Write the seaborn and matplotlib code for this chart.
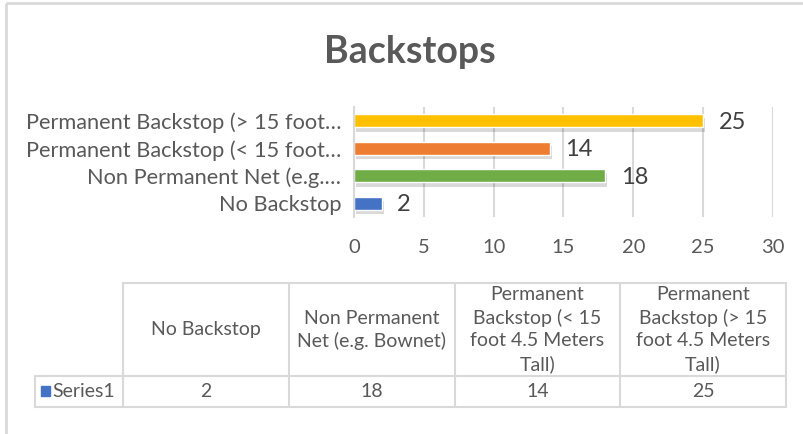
import matplotlib
matplotlib.use("Agg")
import matplotlib.pyplot as plt
import matplotlib.patheffects as pe
import seaborn as sns
import pandas as pd

# Survey results: type of backstop at the field
categories = [
    "No Backstop",
    "Non Permanent Net (e.g. Bownet)",
    "Permanent Backstop (< 15 foot 4.5 Meters Tall)",
    "Permanent Backstop (> 15 foot 4.5 Meters Tall)",
]
values = [2, 18, 14, 25]
axis_labels = [
    "No Backstop",
    "Non Permanent Net (e.g.…",
    "Permanent Backstop (< 15 foot…",
    "Permanent Backstop (> 15 foot…",
]
header_lines = [
    ["No Backstop"],
    ["Non Permanent", "Net (e.g. Bownet)"],
    ["Permanent", "Backstop (< 15", "foot 4.5 Meters", "Tall)"],
    ["Permanent", "Backstop (> 15", "foot 4.5 Meters", "Tall)"],
]
series_name = "Series1"
bar_colors = ["#4472C4", "#70AD47", "#ED7D31", "#FFC000"]
x_ticks = [0, 5, 10, 15, 20, 25, 30]

sns.set_style("white")
plt.rcParams["font.family"] = ["Lato", "DejaVu Sans"]

W, H = 804, 434
fig = plt.figure(figsize=(W / 100, H / 100), dpi=100)

TXT = "#595959"
GRID = "#D9D9D9"


def px_axes(x0, y0, x1, y1):
    return fig.add_axes([x0 / W, 1 - y1 / H, (x1 - x0) / W, (y1 - y0) / H])


# overlay for frame, title and data table (pixel coordinates)
ov = fig.add_axes([0, 0, 1, 1])
ov.set_xlim(0, W)
ov.set_ylim(H, 0)
ov.axis("off")

# chart frame (left and top edges)
ov.plot([6, 6], [3, H], color=GRID, lw=2, solid_capstyle="butt")
ov.plot([6, W], [3, 3], color=GRID, lw=2, solid_capstyle="butt")

ov.text(410, 52, "Backstops", ha="center", va="center", fontsize=27,
        fontweight="bold", color=TXT)

# bar chart: top-to-bottom follows reversed table order
df = pd.DataFrame({"label": axis_labels[::-1], "value": values[::-1]})
ax = px_axes(354, 107, 773, 217)
sns.barplot(data=df, x="value", y="label", hue="label",
            palette=bar_colors[::-1], orient="h", width=0.48,
            legend=False, ax=ax, saturation=1)
for p in ax.patches:
    p.set_path_effects([pe.SimplePatchShadow(offset=(1.5, -3), alpha=0.15,
                                             shadow_rgbFace="#000000"),
                        pe.Normal()])
ax.set_xlim(0, 30)
ax.set_ylim(3.5, -0.5)
ax.set_xticks(x_ticks)
ax.set_xticklabels([str(t) for t in x_ticks])
ax.set_xlabel("")
ax.set_ylabel("")
ax.grid(axis="x", color=GRID, lw=1.5)
ax.set_axisbelow(True)
for s in ["top", "right", "bottom"]:
    ax.spines[s].set_visible(False)
ax.spines["left"].set_color(GRID)
ax.spines["left"].set_linewidth(1.5)
ax.tick_params(axis="x", length=0, pad=16, labelsize=14.5, labelcolor=TXT)
ax.tick_params(axis="y", length=0, pad=9, labelsize=15.7, labelcolor=TXT)

# value labels beside the bars
for i, v in enumerate(df["value"]):
    ax.text(v + 1.1, i + 0.05, str(v), ha="left", va="center", fontsize=17,
            color="#404040")

# data table below the chart
cols = [123, 289, 455, 620, 786]
top, mid, bot = 283, 376, 407
lw = 1.5
ov.plot([cols[0], cols[-1]], [top, top], color=GRID, lw=lw)
ov.plot([35, cols[-1]], [mid, mid], color=GRID, lw=lw)
ov.plot([35, cols[-1]], [bot, bot], color=GRID, lw=lw)
ov.plot([35, 35], [mid, bot], color=GRID, lw=lw)
for c in cols:
    ov.plot([c, c], [top, bot], color=GRID, lw=lw)

line_h = 23
fs_tab = 14
for j, lines in enumerate(header_lines):
    cx = (cols[j] + cols[j + 1]) / 2
    cy = (top + mid) / 2
    n = len(lines)
    for k, ln in enumerate(lines):
        y = cy + (k - (n - 1) / 2) * line_h
        ov.text(cx, y, ln, ha="center", va="center", fontsize=fs_tab,
                color=TXT)
    ov.text(cx, (mid + bot) / 2, str(values[j]), ha="center", va="center",
            fontsize=fs_tab, color=TXT)

ov.add_patch(plt.Rectangle((41, 386), 9, 10, color=bar_colors[0]))
ov.text(52, (mid + bot) / 2, series_name, ha="left", va="center",
        fontsize=fs_tab, color=TXT)

fig.savefig("out.png", dpi=100)
